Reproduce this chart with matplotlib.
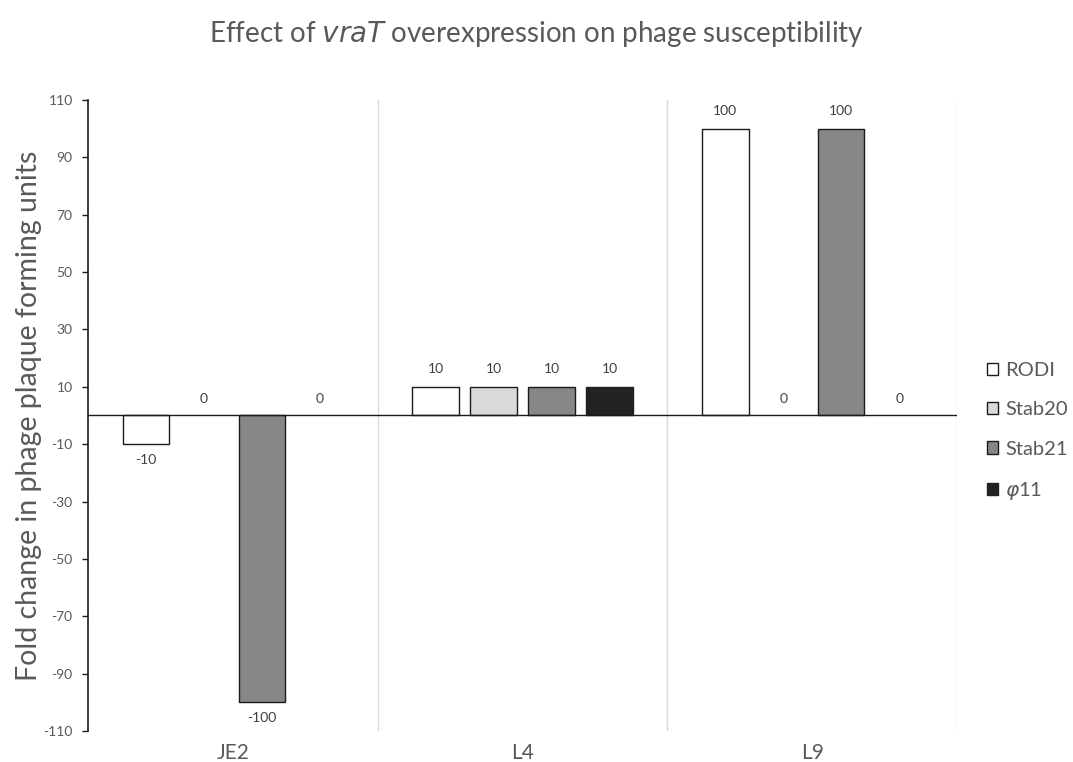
import numpy as np
import matplotlib
matplotlib.use("Agg")
import matplotlib.pyplot as plt
from matplotlib.patches import Patch

plt.rcParams['font.family'] = ['Lato', 'DejaVu Sans']
plt.rcParams['axes.unicode_minus'] = False

# Data
strains = ["JE2", "L4", "L9"]
phages = ["RODI", "Stab20", "Stab21", r"$\varphi$11"]
rodi = [-10, 10, 100]
stab20 = [0, 10, 0]
stab21 = [-100, 10, 100]
phi11 = [0, 10, 0]
yticks = [110, 90, 70, 50, 30, 10, -10, -30, -50, -70, -90, -110]

series = [rodi, stab20, stab21, phi11]
fills = ["#ffffff", "#d9d9d9", "#878787", "#222222"]
edges = ["#1a1a1a", "#1a1a1a", "#1a1a1a", "#222222"]
text_grey = "#595959"

fig = plt.figure(figsize=(10.73, 7.62), dpi=100)
ax = fig.add_axes([0.082, 0.0407, 0.810, 0.8281])

x = np.arange(len(strains))
step = 0.2
width = 0.16
offsets = (np.arange(len(series)) - 1.5) * step

for vals, off, fc, ec, name in zip(series, offsets, fills, edges, phages):
    vals = np.asarray(vals)
    # zero-height bars leave no visible outline
    lws = [1.0 if v != 0 else 0 for v in vals]
    ax.bar(x + off, vals, width=width, color=fc, edgecolor=ec,
           linewidth=lws, zorder=3, label=name)
    for xi, v in zip(x + off, vals):
        if v > 0:
            ax.text(xi, v + 4, f"{v}", ha="center", va="bottom",
                    fontsize=10, color="#404040")
        elif v < 0:
            ax.text(xi, v - 3.5, f"{v}", ha="center", va="top",
                    fontsize=10, color="#404040")
        else:
            ax.text(xi, 3.5, f"{v}", ha="center", va="bottom",
                    fontsize=10, color="#404040")

ax.axhline(0, color="#1a1a1a", linewidth=1.0, zorder=4)
for sep in [0.5, 1.5, 2.5]:
    ax.axvline(sep, color="#d9d9d9", linewidth=1.0, zorder=1)

ax.set_xlim(-0.5, 2.5)
ax.set_ylim(-110, 110)
ax.set_yticks(yticks)
ax.set_xticks(x)
ax.set_xticklabels(strains, fontsize=15, color=text_grey)
ax.tick_params(axis="x", length=0, pad=9)
ax.tick_params(axis="y", direction="out", length=4, width=1.0,
               color="#1a1a1a", labelsize=10, labelcolor=text_grey, pad=7)

for s in ["top", "right", "bottom"]:
    ax.spines[s].set_visible(False)
ax.spines["left"].set_color("#1a1a1a")
ax.spines["left"].set_linewidth(1.2)

ax.set_ylabel("Fold change in phage plaque forming units", fontsize=20.5,
              color=text_grey, labelpad=1)

fig.text(0.5, 0.955, r"Effect of $\mathit{vraT}$ overexpression on phage susceptibility",
         ha="center", va="center", fontsize=20, color=text_grey)

handles = [Patch(facecolor=fc, edgecolor=ec, linewidth=1.0)
           for fc, ec in zip(fills, edges)]
leg = fig.legend(handles, phages, loc="center left",
                 bbox_to_anchor=(0.92, 0.433), frameon=False,
                 fontsize=14.5, handlelength=0.55, handleheight=0.55,
                 handletextpad=0.35, labelspacing=1.1, borderpad=0,
                 borderaxespad=0)
for t in leg.get_texts():
    t.set_color(text_grey)

fig.savefig("out.png", dpi=100)
